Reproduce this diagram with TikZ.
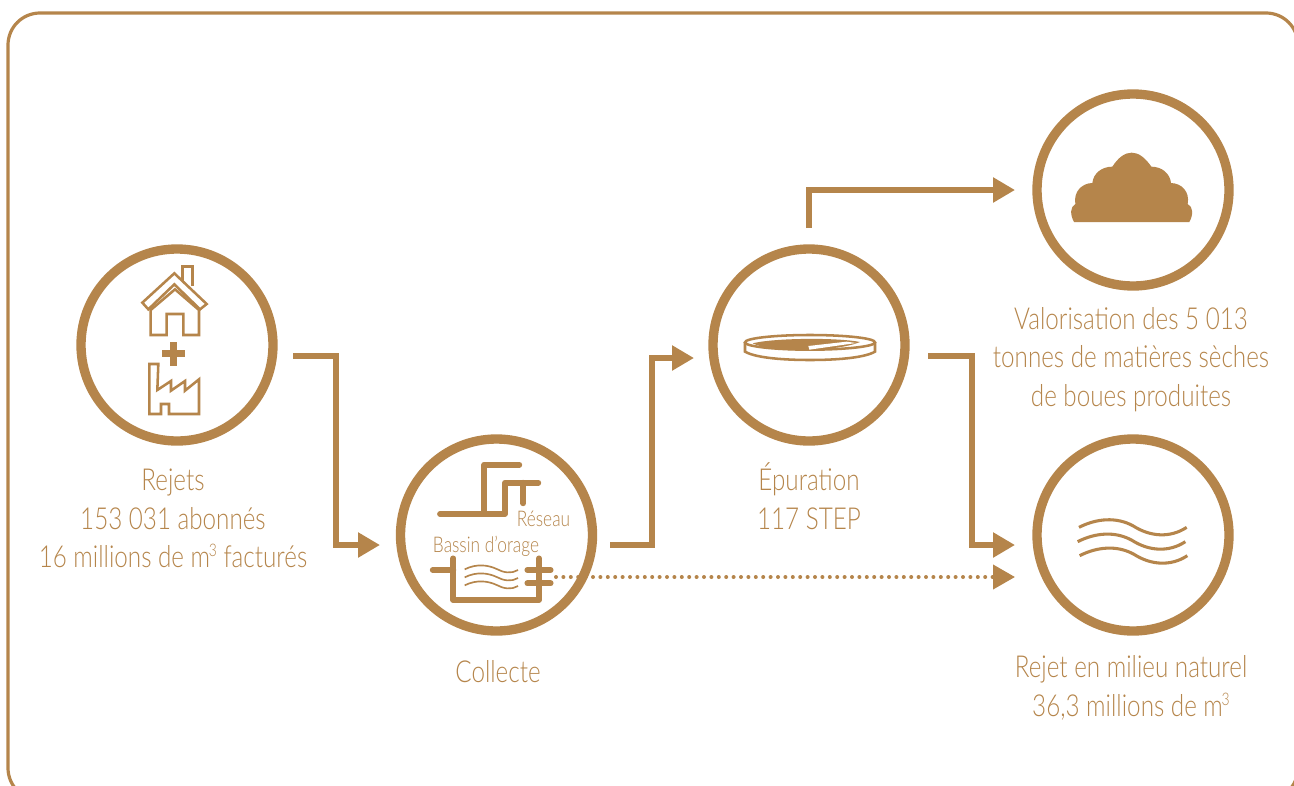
\documentclass[tikz,border=0pt]{standalone}
\usepackage{fontspec}
\setmainfont{Lato}[UprightFont=* Light,FakeStretch=0.80]
\usetikzlibrary{arrows.meta}
\definecolor{ocre}{HTML}{B5854B}
\newcommand{\cube}{\kern-0.04em\raisebox{0.36em}{\fontsize{13pt}{13pt}\selectfont 3}}
\tikzset{
  ring/.style={circle,draw=ocre,line width=7pt,minimum size=144pt,inner sep=0pt,fill=white},
  conn/.style={draw=ocre,line width=4.1pt,-{Triangle[length=16.5pt,width=18pt]},ocre},
  dots/.style={draw=ocre,line width=3pt,line cap=round,dash pattern=on 0pt off 5.55pt,-{Triangle[length=16.5pt,width=18pt]}},
  lab/.style={text=ocre,font=\fontsize{22.7pt}{28.9pt}\selectfont,align=center,inner sep=0pt},
  small/.style={text=ocre,font=\fontsize{16.2pt}{18pt}\selectfont,inner sep=0pt},
  thinl/.style={draw=ocre,line width=1.9pt,line join=miter},
  fatl/.style={draw=ocre,line width=4.3pt,line cap=round,line join=round},
  wave/.style={draw=ocre,line width=2.3pt},
}
\begin{document}
\begin{tikzpicture}[x=0.75pt,y=-0.75pt]
\useasboundingbox (0,0) rectangle (1294,785);
\draw[draw=ocre,line width=2.4pt,rounded corners=24pt] (8,13) rectangle (1298,800);

\node[ring] (rejets) at (177,345) {};
\node[ring] (collecte) at (496.5,535) {};
\node[ring] (epuration) at (809,345) {};
\node[ring] (boues) at (1133,190) {};
\node[ring] (milieu) at (1133,535) {};

\coordinate (a1) at (293,356);
\coordinate (b1) at (380,545);
\coordinate (a2) at (610,545);
\coordinate (b2) at (694,358);
\coordinate (a3) at (809,228);
\coordinate (b3) at (1015,190);
\coordinate (a4) at (928,356);
\coordinate (b4) at (1015,545);
\coordinate (a5) at (556,577);
\coordinate (b5) at (1015,577);
\draw[conn] (a1) -- ++(43,0) |- (b1);
\draw[conn] (a2) -- ++(42,0) |- (b2);
\draw[conn] (a3) |- (b3);
\draw[conn] (a4) -- ++(44,0) |- (b4);
\draw[dots] (a5) -- (b5);

% house + factory
\begin{scope}[shift={(70,240)},scale=1/3]
\draw[thinl] (242,285) -- (242,210) -- (315,148) -- (387,210) -- (387,285) -- (340,285) -- (340,222) -- (290,222) -- (290,285) -- cycle;
\draw[thinl] (217,188) -- (313,100) -- (410,192) -- (390,208) -- (313,133) -- (235,208) -- cycle;
\draw[thinl] (338,122) -- (338,80) -- (368,80) -- (368,137);
\draw[thinl] (238,522) -- (238,372) -- (265,372) -- (262,450) -- (303,423) -- (303,452) -- (345,423) -- (345,452) -- (387,418) -- (387,522) -- (297,522) -- (297,492) -- (273,492) -- (273,522) -- cycle;
\fill[ocre] (300,307) rectangle (320,377);
\fill[ocre] (275,331) rectangle (345,351);
\end{scope}

% collecte
\begin{scope}[shift={(390,430)},scale=1/3]
\draw[fatl] (150,252) -- (345,252) -- (345,158) -- (445,158);
\draw[fatl] (283,252) -- (283,104) -- (388,104);
\draw[fatl] (400,158) -- (400,220);
\draw[fatl] (128,420) -- (190,420);
\draw[fatl] (190,385) -- (190,510) -- (447,510) -- (447,385);
\draw[fatl] (412,420) -- (482,420);
\draw[fatl] (412,460) -- (482,460);
\foreach \d in {0,24,48}{
\draw[draw=ocre,line width=1.25pt,shift={(0,\d)}] (224,418) .. controls (260,400) and (295,405) .. (320,417) .. controls (340,428) and (365,432) .. (384,420);
}
\end{scope}
\node[small] (reseau) at (543.5,519) {Réseau};
\node[small] (bassin) at (486,546) {Bassin d’orage};

% dish
\begin{scope}[shift={(730,320)},scale=1/3]
\draw[thinl] (240,67) ellipse [x radius=195,y radius=22];
\draw[thinl] (45,67) -- (45,95) .. controls (80,115) and (170,120) .. (240,120) .. controls (310,120) and (400,115) .. (435,95) -- (435,67);
\fill[ocre] (68,70) .. controls (130,54) and (320,52) .. (390,66) .. controls (330,92) and (140,104) .. (68,70) -- cycle;
\fill[white] (235,78) -- (350,65) -- (378,69) -- (238,89) -- cycle;
\end{scope}

% sludge
\begin{scope}[shift={(1050,140)},scale=1/3]
\fill[ocre] (72,246) .. controls (60,225) and (60,200) .. (76,192)
  .. controls (70,155) and (95,130) .. (127,129)
  .. controls (130,100) and (155,80) .. (187,80)
  .. controls (205,52) and (225,38) .. (245,38)
  .. controls (265,38) and (285,52) .. (304,80)
  .. controls (335,80) and (360,100) .. (363,129)
  .. controls (395,130) and (420,155) .. (413,192)
  .. controls (430,200) and (430,225) .. (418,246) -- cycle;
\end{scope}

% waves
\begin{scope}[shift={(1060,510)},scale=1/3]
\foreach \dx/\dy in {0/0,-4/43,2/85}{
\draw[wave,shift={(\dx,\dy)}] (57,52) .. controls (110,25) and (170,20) .. (220,48) .. controls (270,80) and (330,85) .. (380,52);
}
\end{scope}

\node[lab] (t1) at (173,518.5) {Rejets\\153 031 abonnés\\16 millions de m\cube{} facturés};
\node[lab] (t2) at (498,672) {Collecte};
\node[lab] (t3) at (809,496) {Épuration\\117 STEP};
\node[lab] (t4) at (1131,359.5) {Valorisation des 5 013\\tonnes de matières sèches\\de boues produites};
\node[lab] (t5) at (1131,688) {Rejet en milieu naturel\\36,3 millions de m\cube};
\end{tikzpicture}
\end{document}
